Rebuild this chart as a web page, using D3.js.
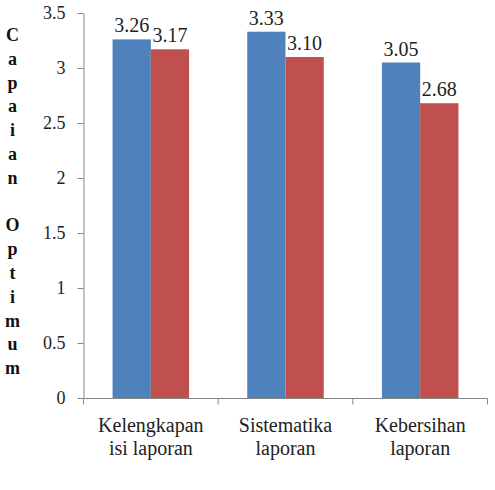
<!DOCTYPE html>
<html><head><meta charset="utf-8">
<script src="https://cdn.jsdelivr.net/npm/d3@7"></script>
</head><body>
<script>
const categories = [["Kelengkapan","isi laporan"],["Sistematika","laporan"],["Kebersihan","laporan"]];
const seriesNames = ["A","B"];
const seriesA = [3.26, 3.33, 3.05];
const seriesB = [3.17, 3.10, 2.68];
const labelsA = ["3.26","3.33","3.05"];
const labelsB = ["3.17","3.10","2.68"];
const yTicks = [0,0.5,1,1.5,2,2.5,3,3.5];
const yTickLabels = ["0","0.5","1","1.5","2","2.5","3","3.5"];
const yTitle = "Capaian Optimum";
const colors = ["#4F81BD","#C0504D"];

d3.select("body").style("margin","0px");
const W=495,H=490;
const svg=d3.select("body").append("svg").attr("width",W).attr("height",H).style("display","block");
const ff='"Times New Roman", Tinos, "Liberation Serif", serif';
const x=d3.scaleBand().domain(d3.range(categories.length)).range([83.5,487.5]).paddingInner(0).paddingOuter(0);
const y=d3.scaleLinear().domain([0,3.5]).range([398,13]);
const xs=d3.scaleBand().domain(seriesNames).range([0,x.bandwidth()]).paddingOuter(0.76).paddingInner(0);

const data=categories.map((c,i)=>({i,vals:[{s:"A",v:seriesA[i],l:labelsA[i]},{s:"B",v:seriesB[i],l:labelsB[i]}]}));
const g=svg.selectAll("g.cat").data(data).join("g").attr("class","cat").attr("transform",d=>`translate(${x(d.i)},0)`);
g.selectAll("rect").data(d=>d.vals).join("rect")
 .attr("x",d=>xs(d.s)).attr("width",xs.bandwidth()).attr("y",d=>y(d.v)).attr("height",d=>y(0)-y(d.v))
 .attr("fill",(d,j)=>colors[j]);
g.selectAll("text.lbl").data(d=>d.vals).join("text").attr("class","lbl")
 .attr("x",d=>xs(d.s)+xs.bandwidth()/2).attr("y",d=>y(d.v)-7)
 .attr("text-anchor","middle").style("font-family",ff).attr("font-size",20).attr("fill","#222").text(d=>d.l);

// y axis
const ya=svg.append("g").attr("transform","translate(83.5,0)")
 .call(d3.axisLeft(y).tickValues(yTicks).tickFormat((d,i)=>yTickLabels[i]).tickSize(6).tickSizeOuter(0).tickPadding(12));
ya.attr("font-family",null).attr("font-size",null);
ya.select(".domain").attr("stroke","#868686");
ya.selectAll(".tick line").attr("stroke","#868686");
ya.selectAll("text").style("font-family",ff).attr("font-size",18).attr("fill","#222");

// x axis
const xa=svg.append("g").attr("transform","translate(0,398.5)");
xa.append("line").attr("x1",x.range()[0]).attr("x2",x.range()[1]).attr("stroke","#868686");
const bounds=d3.range(categories.length+1).map(i=>i<categories.length?x(i):x.range()[1]);
xa.selectAll("line.t").data(bounds).join("line").attr("class","t")
 .attr("x1",d=>d).attr("x2",d=>d).attr("y1",0).attr("y2",6).attr("stroke","#868686");
xa.selectAll("text").data(categories).join("text")
 .attr("x",(d,i)=>x(i)+x.bandwidth()/2).attr("y",33)
 .attr("text-anchor","middle").style("font-family",ff).attr("font-size",20).attr("fill","#222")
 .selectAll("tspan").data(d=>d).join("tspan")
 .attr("x",function(){return this.parentNode.getAttribute("x");}).attr("dy",(d,i)=>i?23:0).text(d=>d);

// y title stacked letters
const letters=yTitle.split("");
svg.append("text").style("font-family",ff).attr("font-size",18).attr("font-weight","bold").attr("fill","#111")
 .attr("text-anchor","middle")
 .selectAll("tspan").data(letters).join("tspan")
 .attr("x",12.5).attr("y",(d,i)=>41+i*23.8).text(d=>d===" "?"\u00a0":d);
</script>
</body></html>
